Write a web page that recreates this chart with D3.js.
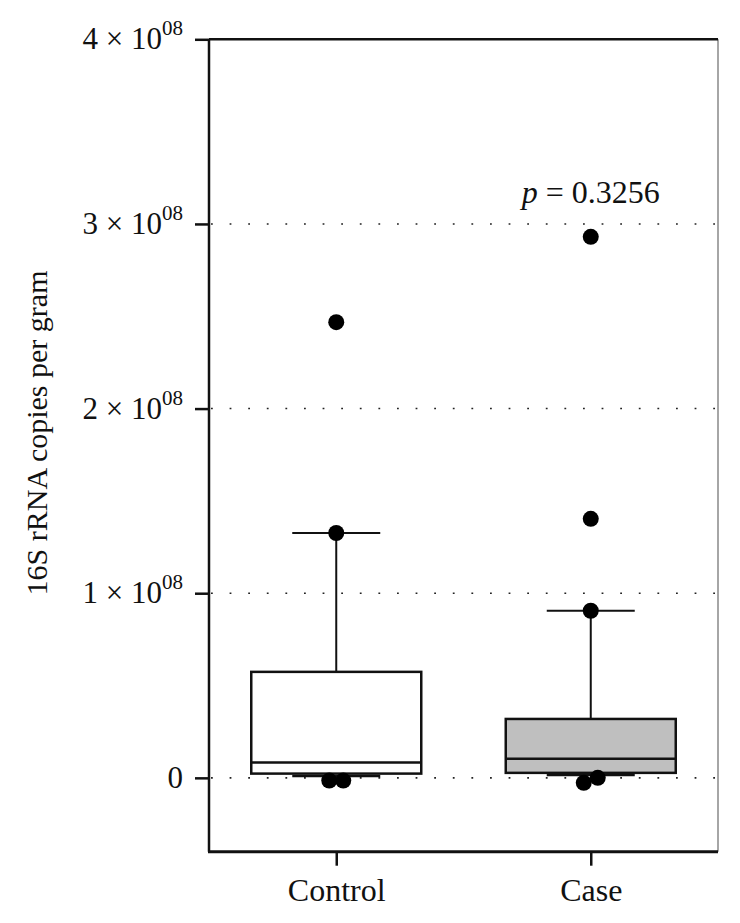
<!DOCTYPE html>
<html lang="en">
<head>
    <meta charset="UTF-8">
    <title>16S rRNA copies per gram</title>
    <script src="https://d3js.org/d3.v7.min.js"></script>
    <style>
        body { margin: 0; background: #fff; }
        text { font-family: "Liberation Serif", "DejaVu Serif", serif; fill: #111; }
    </style>
</head>
<body>
    <svg id="chart" width="740" height="923"></svg>

    <script>
        // box summaries
        const groups = ['Control', 'Case'];
        const whiskerLow = [0.010e8, 0.015e8];
        const q1 = [0.023e8, 0.027e8];
        const median = [0.083e8, 0.104e8];
        const q3 = [0.574e8, 0.319e8];
        const whiskerHigh = [1.326e8, 0.905e8];
        const pointsControl = [2.468e8, 1.326e8, -0.015e8, -0.015e8];
        const pointsCase = [2.93e8, 1.403e8, 0.905e8, 0.0, -0.027e8];
        const fills = ['#ffffff', '#bfbfbf'];
        const yTicks = [0, 1e8, 2e8, 3e8, 4e8];
        const pValue = '0.3256';

        const plotLeft = 209, plotRight = 718, plotTop = 39.3, plotBottom = 851.7;
        const boxW = 170, capW = 88, r = 8;

        const svg = d3.select('#chart');

        const y = d3.scaleLinear().domain([-0.4e8, 4e8]).range([plotBottom, plotTop]);
        const x = d3.scalePoint().domain(groups).range([plotLeft, plotRight]).padding(0.5);

        // dotted grid lines
        svg.append('g').selectAll('line')
            .data(yTicks.slice(0, 4))
            .enter().append('line')
            .attr('x1', plotLeft + 2).attr('x2', plotRight)
            .attr('y1', d => y(d)).attr('y2', d => y(d))
            .attr('stroke', '#222')
            .attr('stroke-width', 1.6)
            .attr('stroke-dasharray', '1.8,16.8');

        // frame: thin grey right side, black top
        svg.append('line').attr('x1', plotRight).attr('x2', plotRight).attr('y1', plotTop).attr('y2', plotBottom)
            .attr('stroke', '#888').attr('stroke-width', 1.5);
        svg.append('line').attr('x1', plotLeft).attr('x2', plotRight).attr('y1', plotTop).attr('y2', plotTop)
            .attr('stroke', '#111').attr('stroke-width', 2.5);

        // y axis
        const yAxis = svg.append('g')
            .attr('transform', 'translate(' + plotLeft + ',0)')
            .call(d3.axisLeft(y).tickValues(yTicks).tickSize(14).tickFormat(''));
        yAxis.select('.domain').attr('d', 'M0,' + plotTop + 'V' + plotBottom).attr('stroke-width', 2.5).attr('stroke', '#111');
        yAxis.selectAll('.tick line').attr('stroke-width', 2.5).attr('stroke', '#111');

        const yLab = svg.append('g').selectAll('text')
            .data(yTicks)
            .enter().append('text')
            .attr('x', 183)
            .attr('y', d => y(d) + 10)
            .attr('text-anchor', 'end')
            .style('font-size', '31px');
        yLab.each(function (d) {
            const t = d3.select(this);
            if (d === 0) { t.text('0'); return; }
            t.append('tspan').text((d / 1e8) + ' \u00d7 10');
            t.append('tspan').attr('dy', -14).style('font-size', '21px').text('08');
        });

        // x axis
        const xAxis = svg.append('g')
            .attr('transform', 'translate(0,' + plotBottom + ')')
            .call(d3.axisBottom(x).tickSize(14).tickSizeOuter(0).tickPadding(13));
        xAxis.select('.domain').attr('d', 'M' + (plotLeft - 1) + ',0H' + plotRight).attr('stroke-width', 3).attr('stroke', '#111');
        xAxis.selectAll('.tick line').attr('stroke-width', 2.5).attr('stroke', '#111');
        xAxis.selectAll('.tick text')
            .style('font-size', '32px')
            .style('font-family', '"Liberation Serif", serif')
            .attr('fill', '#111');

        // y axis title
        svg.append('text')
            .attr('transform', 'translate(47,' + 433 + ') rotate(-90)')
            .attr('text-anchor', 'middle')
            .style('font-size', '30px')
            .text('16S rRNA copies per gram');

        // boxes
        const stats = groups.map((g, i) => ({
            g: g, lo: whiskerLow[i], q1: q1[i], med: median[i], q3: q3[i], hi: whiskerHigh[i], fill: fills[i]
        }));

        const box = svg.append('g').selectAll('g')
            .data(stats)
            .enter().append('g');

        box.append('line')
            .attr('x1', d => x(d.g)).attr('x2', d => x(d.g))
            .attr('y1', d => y(d.q3)).attr('y2', d => y(d.hi))
            .attr('stroke', '#111').attr('stroke-width', 2);
        box.append('line')
            .attr('x1', d => x(d.g) - capW / 2).attr('x2', d => x(d.g) + capW / 2)
            .attr('y1', d => y(d.hi)).attr('y2', d => y(d.hi))
            .attr('stroke', '#111').attr('stroke-width', 2);
        box.append('line')
            .attr('x1', d => x(d.g) - capW / 2).attr('x2', d => x(d.g) + capW / 2)
            .attr('y1', d => y(d.lo)).attr('y2', d => y(d.lo))
            .attr('stroke', '#111').attr('stroke-width', 2.5);
        box.append('rect')
            .attr('x', d => x(d.g) - boxW / 2)
            .attr('y', d => y(d.q3))
            .attr('width', boxW)
            .attr('height', d => y(d.q1) - y(d.q3))
            .attr('fill', d => d.fill)
            .attr('stroke', '#111').attr('stroke-width', 2.5);
        box.append('line')
            .attr('x1', d => x(d.g) - boxW / 2).attr('x2', d => x(d.g) + boxW / 2)
            .attr('y1', d => y(d.med)).attr('y2', d => y(d.med))
            .attr('stroke', '#111').attr('stroke-width', 2.5);

        // points, nudged sideways when they overlap
        function dodge(g, vals) {
            const out = vals.map(v => ({ g: g, v: v, dx: 0 }));
            const sorted = out.slice().sort((a, b) => a.v - b.v);
            for (let i = 1; i < sorted.length; i++) {
                const a = sorted[i - 1], b = sorted[i];
                if (Math.abs(y(a.v) - y(b.v)) < 2 * r && a.dx === 0) {
                    a.dx = -7; b.dx = 7;
                }
            }
            return out;
        }
        const pts = dodge('Control', pointsControl).concat(dodge('Case', pointsCase));

        svg.append('g').selectAll('circle')
            .data(pts)
            .enter().append('circle')
            .attr('cx', d => x(d.g) + d.dx)
            .attr('cy', d => y(d.v))
            .attr('r', r)
            .attr('fill', '#000');

        // p value
        const pt = svg.append('text')
            .attr('x', x('Case'))
            .attr('y', 203)
            .attr('text-anchor', 'middle')
            .style('font-size', '32px');
        pt.append('tspan').style('font-style', 'italic').text('p');
        pt.append('tspan').text(' = ' + pValue);
    </script>
</body>
</html>
